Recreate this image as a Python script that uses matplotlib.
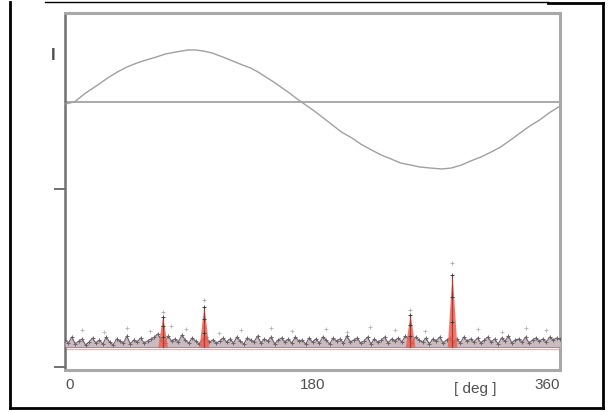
import numpy as np
import matplotlib
matplotlib.use("Agg")
import matplotlib.pyplot as plt
from matplotlib.lines import Line2D

plt.rcParams['font.family'] = ['Liberation Sans', 'DejaVu Sans']

# ---- data (y in arbitrary units) ----
wave_deg = [0, 6.8, 15, 23.8, 31, 38.1, 45, 52.3, 59, 66.5, 73, 80.7, 89.3, 95, 100.6, 107, 114.8,
            122, 129.1, 135, 140.4, 146, 151.8, 157, 163.2, 168.9, 174, 180.3, 187, 194.5, 201,
            208.7, 215, 222.9, 230, 237.2, 244, 251.4, 258, 265.6, 274.1, 281, 288.4, 295,
            302.5, 310, 316.8, 324, 331.0, 338, 345.2, 352, 360]
wave_val = [266, 268, 277, 285, 292, 298, 303, 307, 310, 313, 316, 318, 320, 320, 319, 317, 313,
            309, 305, 302, 298, 293, 288, 283, 277, 271, 266, 260, 253, 245, 238,
            232, 226, 220, 215, 211, 207, 205, 203, 202, 201, 202, 205, 209,
            213, 218, 223, 230, 237, 244, 250, 257, 264]
ref_level = 268

noise_vals = [30, 27, 33, 26, 29, 31, 25, 28, 32, 27, 30, 26, 33, 28, 25, 31, 29, 27, 34, 26, 30, 28, 32, 27,
              29, 31, 33, 36, 30, 27, 34, 29, 31, 28, 35, 30, 27, 32, 29, 26, 31, 33, 28, 30, 27, 29, 32, 28,
              31, 27, 33, 29, 26, 32, 30, 28, 34, 27, 31, 29, 33, 26, 30, 32, 28, 31, 27, 33, 29, 30, 26, 32,
              28, 31, 27, 33, 30, 26, 32, 29, 31, 27, 34, 28, 30, 32, 27, 29, 33, 26, 31, 28, 30, 33, 27, 31,
              29, 32, 28, 34, 31, 27, 33, 30, 28, 32, 26, 31, 29, 33, 27, 30, 32, 28, 31, 27, 33, 29, 31, 28,
              32, 27, 30, 33, 28, 31, 26, 32, 29, 34, 27, 30, 31, 28, 33, 27, 30, 32, 29, 31, 28, 33, 30, 32, 31]
noise_floor = 23
red_floor = 21

scatter_deg = [12, 28, 45, 62, 77, 88, 112, 128, 150, 165, 190, 205, 222, 240, 262, 300, 318, 335, 350]
scatter_val = [40, 38, 42, 39, 44, 41, 37, 40, 42, 39, 41, 38, 43, 40, 39, 41, 38, 42, 40]

spike_deg = [71, 101, 251, 281.5]
spike_peak = [53, 63, 55, 95]
spike_cap = [58, 70, 60, 107]

xticks = [0, 180, 360]
xticklabels = ['0', '180', '360']
yticks = [3, 181]

# ---- figure ----
fig = plt.figure(figsize=(6.14, 4.12), dpi=100)
ax = fig.add_axes([65/614, 1-370/412, 495/614, 357/412])
ax.set_xlim(0, 360)
ax.set_ylim(0, 357)

# reference line and wave
ax.axhline(ref_level, color='#a4a4a4', lw=1.3, zorder=2)
ax.plot(wave_deg, wave_val, color='#a0a0a0', lw=1.0, zorder=3)

# noise
ax.axhline(red_floor, color='#eab0b0', lw=0.9, zorder=2)
ax.axhline(noise_floor, color='#6a5a62', lw=1.4, zorder=3)
nx = np.linspace(0, 360, len(noise_vals))
ax.fill_between(nx, noise_floor, noise_vals, color='#c8bcc0', lw=0, zorder=3)
ax.plot(nx, noise_vals, color='#6e6068', lw=0.8, marker='+', ms=3.5, mew=0.7, zorder=4)
ax.plot(scatter_deg, scatter_val, ls='none', marker='+', ms=3, mew=0.6, color='#bcb0b0', zorder=3)

# spikes
for c, p, cap in zip(spike_deg, spike_peak, spike_cap):
    xs = [c - 3.5, c - 1.2, c, c + 1.2, c + 3.5]
    ys = [noise_floor, noise_floor + (p - noise_floor) * 0.7, p,
          noise_floor + (p - noise_floor) * 0.7, noise_floor]
    ax.fill_between(xs, noise_floor, ys, color='#f06050', alpha=0.85, lw=0, zorder=5)
    ax.plot([c, c], [noise_floor, p], color='#b03838', lw=0.9, zorder=6)
    ax.plot([c, c, c], [noise_floor + (p - noise_floor) * 0.35,
                        noise_floor + (p - noise_floor) * 0.7, p],
            ls='none', marker='+', ms=3.5, mew=0.7, color='#404040', zorder=7)
    ax.plot([c], [cap], ls='none', marker='+', ms=3, mew=0.6, color='#a8a8a8', zorder=7)

# spines
for s in ['top', 'right', 'bottom']:
    ax.spines[s].set_color('#a8a8a8')
    ax.spines[s].set_linewidth(2.2)
ax.spines['left'].set_color('#707070')
ax.spines['left'].set_linewidth(1.8)

ax.set_xticks(xticks)
ax.set_xticklabels(xticklabels, fontsize=11, color='#505050')
labs = ax.get_xticklabels()
labs[0].set_ha('left')
labs[-1].set_ha('right')
ax.tick_params(axis='x', length=0, pad=6)
ax.set_yticks(yticks)
ax.set_yticklabels([])
ax.tick_params(axis='y', length=8, width=1.4, color='#707070', direction='out')
ax.text(-0.02, 315, 'I', transform=ax.get_yaxis_transform(), ha='right', va='center',
        fontsize=12, color='#505050', fontweight='bold')
ax.text(0.828, -0.035, '[ deg ]', transform=ax.transAxes, ha='center', va='top',
        fontsize=11, color='#505050')

# outer frame
fig.add_artist(Line2D([10/614, 10/614], [1-408/412, 1-2/412], color='black', lw=2, transform=fig.transFigure))
fig.add_artist(Line2D([603/614, 603/614], [1-408/412, 1-3/412], color='black', lw=2, transform=fig.transFigure))
fig.add_artist(Line2D([10/614, 603/614], [1-408/412, 1-408/412], color='black', lw=2, transform=fig.transFigure))
fig.add_artist(Line2D([45/614, 548/614], [1-2/412, 1-2/412], color='black', lw=1, transform=fig.transFigure))
fig.add_artist(Line2D([548/614, 603/614], [1-3/412, 1-3/412], color='black', lw=2, transform=fig.transFigure))

fig.savefig('out.png', dpi=100)
